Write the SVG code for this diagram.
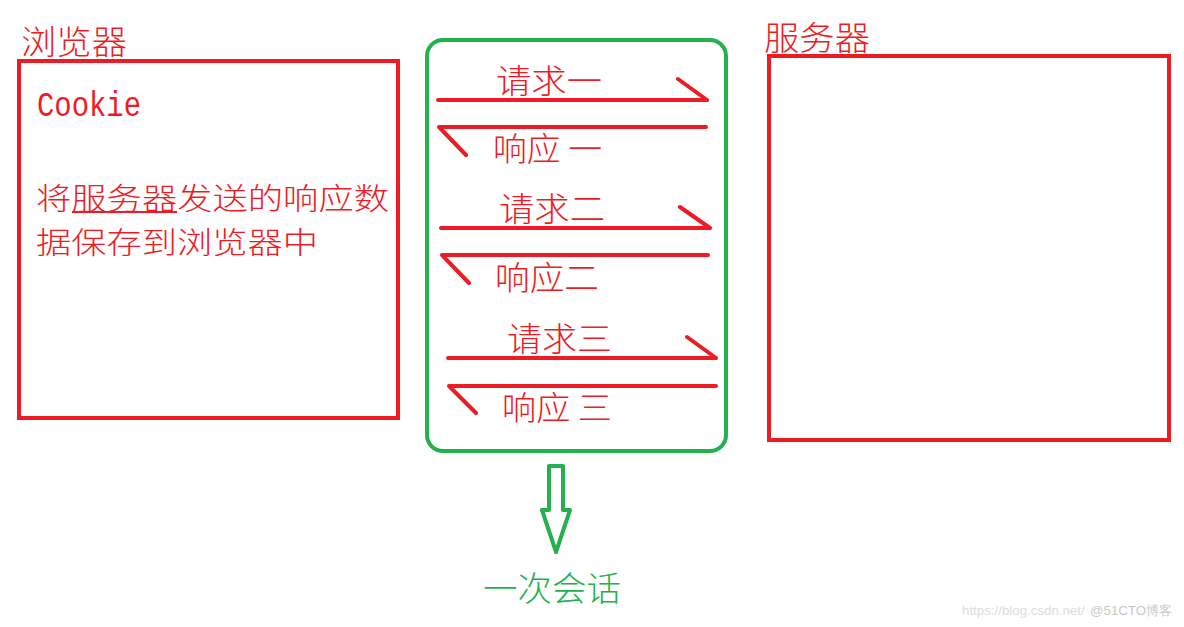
<svg xmlns="http://www.w3.org/2000/svg" width="1184" height="627" viewBox="0 0 1184 627">
  <style>
    .cjk { font-family: "Noto Sans CJK SC", "Noto Sans", sans-serif; font-weight: 300; }
    .red { fill: #ed1c24; }
    .green { fill: #22b14c; }
    .box { fill: none; stroke: #ed1c24; stroke-width: 4; }
    .msg { fill: none; stroke: #ed1c24; stroke-width: 4; stroke-linecap: round; stroke-linejoin: round; }
    .lbl { font-size: 33px; }
  </style>
  <rect x="0" y="0" width="1184" height="627" fill="#ffffff"/>

  <g id="browser">
    <text class="cjk red" x="21" y="54" font-size="33" textLength="106" lengthAdjust="spacingAndGlyphs">浏览器</text>
    <rect class="box" x="19" y="61" width="379" height="357"/>
    <text class="red" transform="translate(37,116) scale(1,1.2)" x="0" y="0" font-family="Liberation Mono, monospace" font-size="29" textLength="104" lengthAdjust="spacingAndGlyphs">Cookie</text>
    <text class="cjk red" font-size="30"><tspan x="36" y="209" textLength="353" lengthAdjust="spacingAndGlyphs">将服务器发送的响应数</tspan><tspan x="36" y="253" textLength="282" lengthAdjust="spacingAndGlyphs">据保存到浏览器中</tspan></text>
    <line x1="72" y1="212" x2="177" y2="212" stroke="#ed1c24" stroke-width="2"/>
  </g>

  <g id="server">
    <text class="cjk red" x="764" y="50" font-size="33" textLength="106" lengthAdjust="spacingAndGlyphs">服务器</text>
    <rect class="box" x="769" y="56" width="400" height="384"/>
  </g>

  <g id="session">
    <rect x="427" y="40" width="299" height="411" rx="16" ry="16" fill="none" stroke="#22b14c" stroke-width="4"/>
    <g class="cjk red lbl">
      <text x="496" y="93" textLength="106" lengthAdjust="spacingAndGlyphs">请求一</text>
      <text x="493" y="161" textLength="109" lengthAdjust="spacingAndGlyphs">响应 一</text>
      <text x="499" y="221" textLength="106" lengthAdjust="spacingAndGlyphs">请求二</text>
      <text x="495" y="290" textLength="104" lengthAdjust="spacingAndGlyphs">响应二</text>
      <text x="507" y="351" textLength="105" lengthAdjust="spacingAndGlyphs">请求三</text>
      <text x="502" y="420" textLength="110" lengthAdjust="spacingAndGlyphs">响应 三</text>
    </g>
  </g>

  <g id="connectors">
    <path class="msg" d="M438 100 H707 M678 79 L707 100"/>
    <path class="msg" d="M706 127 H439 L466 155"/>
    <path class="msg" d="M441 228 H710 M680 207 L710 228"/>
    <path class="msg" d="M708 255 H442 L469 283"/>
    <path class="msg" d="M448 358 H716 M687 337 L716 358"/>
    <path class="msg" d="M716 386 H449 L476 413"/>
    <path id="session-arrow" d="M549 466 H563 V510 H570 L556 552 L542 510 H549 Z" fill="none" stroke="#22b14c" stroke-width="4" stroke-linejoin="round"/>
  </g>

  <g id="session-label">
    <text class="cjk green" x="483" y="601" font-size="34" textLength="138" lengthAdjust="spacingAndGlyphs">一次会话</text>
  </g>

  <g id="watermark" font-family="Liberation Sans, Arial, sans-serif" font-size="13.3">
    <text x="962" y="615" fill="#dcdcdc">https://blog.csdn.net/</text>
    <text x="1090" y="615" fill="#c8c8c8">@51CTO博客</text>
  </g>
</svg>
